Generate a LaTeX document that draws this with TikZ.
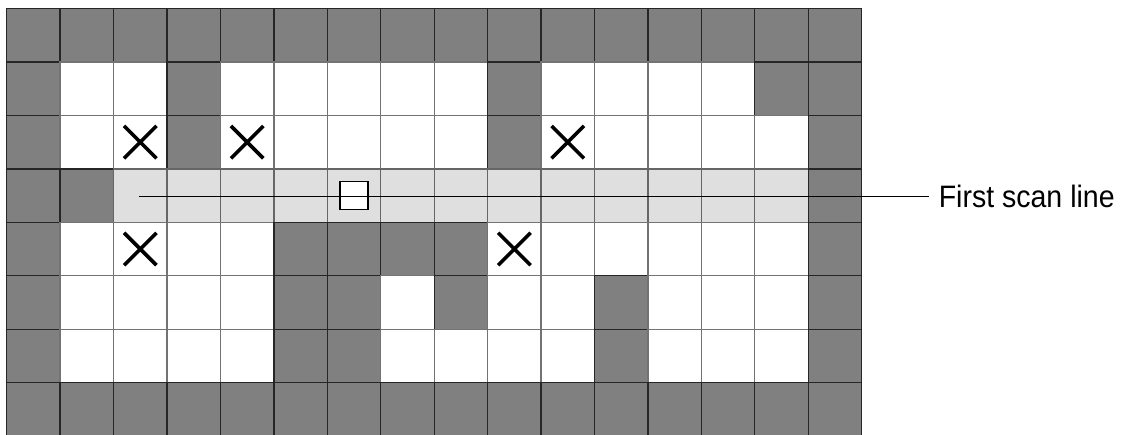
\documentclass[tikz,border=0pt]{standalone}
\usepackage{fontspec}
\newfontfamily\labfont[FakeStretch=0.92]{Liberation Sans}
\usetikzlibrary{shapes.misc}
\definecolor{cdark}{HTML}{808080}
\definecolor{clight}{HTML}{DFDFDF}
\tikzset{
  cellbox/.style={draw=black!70, line width=0.7pt, minimum size=1cm, inner sep=0pt, outer sep=0pt},
  cell d/.style={fill=cdark, draw=black!85},
  cell w/.style={fill=white, draw=black!55},
  cell x/.style={fill=white, draw=black!55},
  cell l/.style={fill=clight, draw=black!60},
  xmark/.style={cross out, draw=black, line width=1.9pt, minimum size=0.54cm, inner sep=0pt},
  pixbox/.style={draw=black, fill=white, line width=0.7pt, minimum size=0.52cm, inner sep=0pt},
  scanline/.style={draw=black, line width=0.7pt},
  labeltext/.style={font=\labfont\fontsize{16.5}{19}\selectfont, inner xsep=5pt, inner ysep=0pt, anchor=west}
}
\begin{document}
\begin{tikzpicture}
\useasboundingbox (-0.125,0.02) rectangle (20.89,8.16);
\foreach \r/\row in {
  7/{d,d,d,d,d,d,d,d,d,d,d,d,d,d,d,d},
  6/{d,w,w,d,w,w,w,w,w,d,w,w,w,w,d,d},
  5/{d,w,x,d,x,w,w,w,w,d,x,w,w,w,w,d},
  4/{d,d,l,l,l,l,l,l,l,l,l,l,l,l,l,d},
  3/{d,w,x,w,w,d,d,d,d,x,w,w,w,w,w,d},
  2/{d,w,w,w,w,d,d,w,d,w,w,d,w,w,w,d},
  1/{d,w,w,w,w,d,d,w,w,w,w,d,w,w,w,d},
  0/{d,d,d,d,d,d,d,d,d,d,d,d,d,d,d,d}}{
  \foreach \t [count=\c from 0] in \row {
    \node[cellbox, cell \t] (c-\c-\r) at (\c+0.5,\r+0.5) {};
  }
}
% cross marks
\foreach \c/\r in {2/5,4/5,10/5,2/3,9/3}{
  \node[xmark] (x-\c-\r) at (c-\c-\r) {};
}
% current pixel
\node[pixbox] (pix) at (c-6-4) {};
% scan line and label
\coordinate (s0) at (2.476,4.48);
\node[labeltext] (lbl) at (17.26,4.48) {First scan line};
\draw[scanline] (s0) -- (lbl.west);
\end{tikzpicture}
\end{document}
